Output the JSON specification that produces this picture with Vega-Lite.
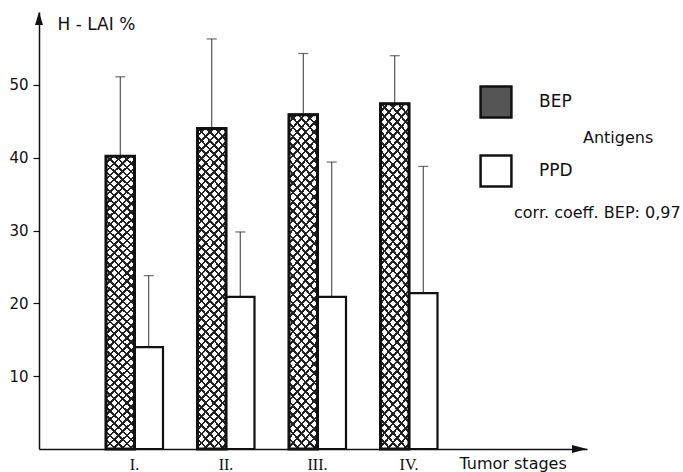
{
"$schema": "https://vega.github.io/schema/vega-lite/v6.json",
"width": 548, "height": 437,
"autosize": {"type": "none"},
"padding": {"left": 39, "top": 12, "right": 96, "bottom": 23},
"background": "white",
"config": {"view": {"stroke": null}, "font": "DejaVu Sans"},
"data": {"values": [
{"stage":"I.","antigen":"BEP","value":40.2,"upper":51.1},
{"stage":"I.","antigen":"PPD","value":14.0,"upper":23.8},
{"stage":"II.","antigen":"BEP","value":44.0,"upper":56.3},
{"stage":"II.","antigen":"PPD","value":20.9,"upper":29.8},
{"stage":"III.","antigen":"BEP","value":45.9,"upper":54.3},
{"stage":"III.","antigen":"PPD","value":20.9,"upper":39.4},
{"stage":"IV.","antigen":"BEP","value":47.4,"upper":54.0},
{"stage":"IV.","antigen":"PPD","value":21.4,"upper":38.8}
]},
"layer": [
{
"encoding": {
"x": {"field":"stage","type":"nominal","sort":["I.","II.","III.","IV."],
"scale":{"paddingInner":0.011,"paddingOuter":1,"align":0.2746},
"axis":{"title":"Tumor stages","labelAngle":0,"ticks":false,"tickSize":0,"labelPadding":7,"labelFont":"Liberation Serif","labelFontSize":16,"labelColor":"#111","labelDx":3,"domainColor":"#111","domainWidth":1.5,"titleFont":"DejaVu Sans","titleFontSize":16,"titleFontWeight":"normal","titleColor":"#111","titleX":420,"titleY":14,"titleAlign":"left","titleBaseline":"middle"}},
"xOffset": {"field":"antigen","type":"nominal","sort":["BEP","PPD"],"scale":{"paddingInner":0,"paddingOuter":0.588}},
"y": {"field":"value","type":"quantitative","title":"H - LAI %","scale":{"domain":[0,60],"nice":false},
"axis":{"values":[10,20,30,40,50],"grid":false,"tickSize":6,"tickColor":"#111","tickWidth":1.2,"labelPadding":5,"labelFontSize":15,"labelColor":"#111","domainColor":"#111","domainWidth":1.5,"titleAngle":0,"titleAlign":"left","titleBaseline":"middle","titleX":18,"titleY":12,"titleFontSize":17,"titleFontWeight":"normal","titleColor":"#111"}}
},
"layer": [
{"mark":{"type":"rule","color":"#333","strokeWidth":1},"encoding":{"y2":{"field":"upper"}}},
{"mark":{"type":"tick","color":"#333","size":10,"thickness":1.2},"encoding":{"y":{"field":"upper","type":"quantitative","title":"H - LAI %"}}},
{"mark":{"type":"bar","stroke":"#111","strokeWidth":2.2},"encoding":{"fill":{"field":"antigen","type":"nominal","scale":{"domain":["BEP","PPD"],"range":["#555","#fff"]},
"legend":{"title":"Antigens","orient":"none","legendX":440,"legendY":73,"direction":"vertical","symbolType":"square","symbolSize":950,"symbolStrokeColor":"#111","symbolStrokeWidth":2.5,"labelFontSize":17,"labelColor":"#111","labelOffset":26,"rowPadding":27,"titleOrient":"right","titleAnchor":"middle","titleFontSize":16,"titleFontWeight":"normal","titleColor":"#111","titlePadding":10,"titleBaseline":"middle","padding":0}}}},
{"transform":[{"filter":"datum.antigen === 'BEP'"}],"mark":{"type":"bar","strokeWidth":0,"fill":{"gradient":"linear","x1":0,"y1":0,"x2":0.103,"y2":1.1,"stops":[
{"offset":0,"color":"#fff"},{"offset":0.0175,"color":"#fff"},{"offset":0.0175,"color":"#222"},{"offset":0.025,"color":"#222"},
{"offset":0.025,"color":"#fff"},{"offset":0.0425,"color":"#fff"},{"offset":0.0425,"color":"#222"},{"offset":0.05,"color":"#222"},
{"offset":0.05,"color":"#fff"},{"offset":0.0675,"color":"#fff"},{"offset":0.0675,"color":"#222"},{"offset":0.075,"color":"#222"},
{"offset":0.075,"color":"#fff"},{"offset":0.0925,"color":"#fff"},{"offset":0.0925,"color":"#222"},{"offset":0.1,"color":"#222"},
{"offset":0.1,"color":"#fff"},{"offset":0.1175,"color":"#fff"},{"offset":0.1175,"color":"#222"},{"offset":0.125,"color":"#222"},
{"offset":0.125,"color":"#fff"},{"offset":0.1425,"color":"#fff"},{"offset":0.1425,"color":"#222"},{"offset":0.15,"color":"#222"},
{"offset":0.15,"color":"#fff"},{"offset":0.1675,"color":"#fff"},{"offset":0.1675,"color":"#222"},{"offset":0.175,"color":"#222"},
{"offset":0.175,"color":"#fff"},{"offset":0.1925,"color":"#fff"},{"offset":0.1925,"color":"#222"},{"offset":0.2,"color":"#222"},
{"offset":0.2,"color":"#fff"},{"offset":0.2175,"color":"#fff"},{"offset":0.2175,"color":"#222"},{"offset":0.225,"color":"#222"},
{"offset":0.225,"color":"#fff"},{"offset":0.2425,"color":"#fff"},{"offset":0.2425,"color":"#222"},{"offset":0.25,"color":"#222"},
{"offset":0.25,"color":"#fff"},{"offset":0.2675,"color":"#fff"},{"offset":0.2675,"color":"#222"},{"offset":0.275,"color":"#222"},
{"offset":0.275,"color":"#fff"},{"offset":0.2925,"color":"#fff"},{"offset":0.2925,"color":"#222"},{"offset":0.3,"color":"#222"},
{"offset":0.3,"color":"#fff"},{"offset":0.3175,"color":"#fff"},{"offset":0.3175,"color":"#222"},{"offset":0.325,"color":"#222"},
{"offset":0.325,"color":"#fff"},{"offset":0.3425,"color":"#fff"},{"offset":0.3425,"color":"#222"},{"offset":0.35,"color":"#222"},
{"offset":0.35,"color":"#fff"},{"offset":0.3675,"color":"#fff"},{"offset":0.3675,"color":"#222"},{"offset":0.375,"color":"#222"},
{"offset":0.375,"color":"#fff"},{"offset":0.3925,"color":"#fff"},{"offset":0.3925,"color":"#222"},{"offset":0.4,"color":"#222"},
{"offset":0.4,"color":"#fff"},{"offset":0.4175,"color":"#fff"},{"offset":0.4175,"color":"#222"},{"offset":0.425,"color":"#222"},
{"offset":0.425,"color":"#fff"},{"offset":0.4425,"color":"#fff"},{"offset":0.4425,"color":"#222"},{"offset":0.45,"color":"#222"},
{"offset":0.45,"color":"#fff"},{"offset":0.4675,"color":"#fff"},{"offset":0.4675,"color":"#222"},{"offset":0.475,"color":"#222"},
{"offset":0.475,"color":"#fff"},{"offset":0.4925,"color":"#fff"},{"offset":0.4925,"color":"#222"},{"offset":0.5,"color":"#222"},
{"offset":0.5,"color":"#fff"},{"offset":0.5175,"color":"#fff"},{"offset":0.5175,"color":"#222"},{"offset":0.525,"color":"#222"},
{"offset":0.525,"color":"#fff"},{"offset":0.5425,"color":"#fff"},{"offset":0.5425,"color":"#222"},{"offset":0.55,"color":"#222"},
{"offset":0.55,"color":"#fff"},{"offset":0.5675,"color":"#fff"},{"offset":0.5675,"color":"#222"},{"offset":0.575,"color":"#222"},
{"offset":0.575,"color":"#fff"},{"offset":0.5925,"color":"#fff"},{"offset":0.5925,"color":"#222"},{"offset":0.6,"color":"#222"},
{"offset":0.6,"color":"#fff"},{"offset":0.6175,"color":"#fff"},{"offset":0.6175,"color":"#222"},{"offset":0.625,"color":"#222"},
{"offset":0.625,"color":"#fff"},{"offset":0.6425,"color":"#fff"},{"offset":0.6425,"color":"#222"},{"offset":0.65,"color":"#222"},
{"offset":0.65,"color":"#fff"},{"offset":0.6675,"color":"#fff"},{"offset":0.6675,"color":"#222"},{"offset":0.675,"color":"#222"},
{"offset":0.675,"color":"#fff"},{"offset":0.6925,"color":"#fff"},{"offset":0.6925,"color":"#222"},{"offset":0.7,"color":"#222"},
{"offset":0.7,"color":"#fff"},{"offset":0.7175,"color":"#fff"},{"offset":0.7175,"color":"#222"},{"offset":0.725,"color":"#222"},
{"offset":0.725,"color":"#fff"},{"offset":0.7425,"color":"#fff"},{"offset":0.7425,"color":"#222"},{"offset":0.75,"color":"#222"},
{"offset":0.75,"color":"#fff"},{"offset":0.7675,"color":"#fff"},{"offset":0.7675,"color":"#222"},{"offset":0.775,"color":"#222"},
{"offset":0.775,"color":"#fff"},{"offset":0.7925,"color":"#fff"},{"offset":0.7925,"color":"#222"},{"offset":0.8,"color":"#222"},
{"offset":0.8,"color":"#fff"},{"offset":0.8175,"color":"#fff"},{"offset":0.8175,"color":"#222"},{"offset":0.825,"color":"#222"},
{"offset":0.825,"color":"#fff"},{"offset":0.8425,"color":"#fff"},{"offset":0.8425,"color":"#222"},{"offset":0.85,"color":"#222"},
{"offset":0.85,"color":"#fff"},{"offset":0.8675,"color":"#fff"},{"offset":0.8675,"color":"#222"},{"offset":0.875,"color":"#222"},
{"offset":0.875,"color":"#fff"},{"offset":0.8925,"color":"#fff"},{"offset":0.8925,"color":"#222"},{"offset":0.9,"color":"#222"},
{"offset":0.9,"color":"#fff"},{"offset":0.9175,"color":"#fff"},{"offset":0.9175,"color":"#222"},{"offset":0.925,"color":"#222"},
{"offset":0.925,"color":"#fff"},{"offset":0.9425,"color":"#fff"},{"offset":0.9425,"color":"#222"},{"offset":0.95,"color":"#222"},
{"offset":0.95,"color":"#fff"},{"offset":0.9675,"color":"#fff"},{"offset":0.9675,"color":"#222"},{"offset":0.975,"color":"#222"},
{"offset":0.975,"color":"#fff"},{"offset":0.9925,"color":"#fff"},{"offset":0.9925,"color":"#222"},{"offset":1,"color":"#222"}
]}}},
{"transform":[{"filter":"datum.antigen === 'BEP'"}],"mark":{"type":"bar","stroke":"#111","strokeWidth":3,"fill":{"gradient":"linear","x1":0.103,"y1":-0.1,"x2":0,"y2":1.0,"stops":[
{"offset":0,"color":"rgba(0,0,0,0)"},{"offset":0.0175,"color":"rgba(0,0,0,0)"},{"offset":0.0175,"color":"#222"},{"offset":0.025,"color":"#222"},
{"offset":0.025,"color":"rgba(0,0,0,0)"},{"offset":0.0425,"color":"rgba(0,0,0,0)"},{"offset":0.0425,"color":"#222"},{"offset":0.05,"color":"#222"},
{"offset":0.05,"color":"rgba(0,0,0,0)"},{"offset":0.0675,"color":"rgba(0,0,0,0)"},{"offset":0.0675,"color":"#222"},{"offset":0.075,"color":"#222"},
{"offset":0.075,"color":"rgba(0,0,0,0)"},{"offset":0.0925,"color":"rgba(0,0,0,0)"},{"offset":0.0925,"color":"#222"},{"offset":0.1,"color":"#222"},
{"offset":0.1,"color":"rgba(0,0,0,0)"},{"offset":0.1175,"color":"rgba(0,0,0,0)"},{"offset":0.1175,"color":"#222"},{"offset":0.125,"color":"#222"},
{"offset":0.125,"color":"rgba(0,0,0,0)"},{"offset":0.1425,"color":"rgba(0,0,0,0)"},{"offset":0.1425,"color":"#222"},{"offset":0.15,"color":"#222"},
{"offset":0.15,"color":"rgba(0,0,0,0)"},{"offset":0.1675,"color":"rgba(0,0,0,0)"},{"offset":0.1675,"color":"#222"},{"offset":0.175,"color":"#222"},
{"offset":0.175,"color":"rgba(0,0,0,0)"},{"offset":0.1925,"color":"rgba(0,0,0,0)"},{"offset":0.1925,"color":"#222"},{"offset":0.2,"color":"#222"},
{"offset":0.2,"color":"rgba(0,0,0,0)"},{"offset":0.2175,"color":"rgba(0,0,0,0)"},{"offset":0.2175,"color":"#222"},{"offset":0.225,"color":"#222"},
{"offset":0.225,"color":"rgba(0,0,0,0)"},{"offset":0.2425,"color":"rgba(0,0,0,0)"},{"offset":0.2425,"color":"#222"},{"offset":0.25,"color":"#222"},
{"offset":0.25,"color":"rgba(0,0,0,0)"},{"offset":0.2675,"color":"rgba(0,0,0,0)"},{"offset":0.2675,"color":"#222"},{"offset":0.275,"color":"#222"},
{"offset":0.275,"color":"rgba(0,0,0,0)"},{"offset":0.2925,"color":"rgba(0,0,0,0)"},{"offset":0.2925,"color":"#222"},{"offset":0.3,"color":"#222"},
{"offset":0.3,"color":"rgba(0,0,0,0)"},{"offset":0.3175,"color":"rgba(0,0,0,0)"},{"offset":0.3175,"color":"#222"},{"offset":0.325,"color":"#222"},
{"offset":0.325,"color":"rgba(0,0,0,0)"},{"offset":0.3425,"color":"rgba(0,0,0,0)"},{"offset":0.3425,"color":"#222"},{"offset":0.35,"color":"#222"},
{"offset":0.35,"color":"rgba(0,0,0,0)"},{"offset":0.3675,"color":"rgba(0,0,0,0)"},{"offset":0.3675,"color":"#222"},{"offset":0.375,"color":"#222"},
{"offset":0.375,"color":"rgba(0,0,0,0)"},{"offset":0.3925,"color":"rgba(0,0,0,0)"},{"offset":0.3925,"color":"#222"},{"offset":0.4,"color":"#222"},
{"offset":0.4,"color":"rgba(0,0,0,0)"},{"offset":0.4175,"color":"rgba(0,0,0,0)"},{"offset":0.4175,"color":"#222"},{"offset":0.425,"color":"#222"},
{"offset":0.425,"color":"rgba(0,0,0,0)"},{"offset":0.4425,"color":"rgba(0,0,0,0)"},{"offset":0.4425,"color":"#222"},{"offset":0.45,"color":"#222"},
{"offset":0.45,"color":"rgba(0,0,0,0)"},{"offset":0.4675,"color":"rgba(0,0,0,0)"},{"offset":0.4675,"color":"#222"},{"offset":0.475,"color":"#222"},
{"offset":0.475,"color":"rgba(0,0,0,0)"},{"offset":0.4925,"color":"rgba(0,0,0,0)"},{"offset":0.4925,"color":"#222"},{"offset":0.5,"color":"#222"},
{"offset":0.5,"color":"rgba(0,0,0,0)"},{"offset":0.5175,"color":"rgba(0,0,0,0)"},{"offset":0.5175,"color":"#222"},{"offset":0.525,"color":"#222"},
{"offset":0.525,"color":"rgba(0,0,0,0)"},{"offset":0.5425,"color":"rgba(0,0,0,0)"},{"offset":0.5425,"color":"#222"},{"offset":0.55,"color":"#222"},
{"offset":0.55,"color":"rgba(0,0,0,0)"},{"offset":0.5675,"color":"rgba(0,0,0,0)"},{"offset":0.5675,"color":"#222"},{"offset":0.575,"color":"#222"},
{"offset":0.575,"color":"rgba(0,0,0,0)"},{"offset":0.5925,"color":"rgba(0,0,0,0)"},{"offset":0.5925,"color":"#222"},{"offset":0.6,"color":"#222"},
{"offset":0.6,"color":"rgba(0,0,0,0)"},{"offset":0.6175,"color":"rgba(0,0,0,0)"},{"offset":0.6175,"color":"#222"},{"offset":0.625,"color":"#222"},
{"offset":0.625,"color":"rgba(0,0,0,0)"},{"offset":0.6425,"color":"rgba(0,0,0,0)"},{"offset":0.6425,"color":"#222"},{"offset":0.65,"color":"#222"},
{"offset":0.65,"color":"rgba(0,0,0,0)"},{"offset":0.6675,"color":"rgba(0,0,0,0)"},{"offset":0.6675,"color":"#222"},{"offset":0.675,"color":"#222"},
{"offset":0.675,"color":"rgba(0,0,0,0)"},{"offset":0.6925,"color":"rgba(0,0,0,0)"},{"offset":0.6925,"color":"#222"},{"offset":0.7,"color":"#222"},
{"offset":0.7,"color":"rgba(0,0,0,0)"},{"offset":0.7175,"color":"rgba(0,0,0,0)"},{"offset":0.7175,"color":"#222"},{"offset":0.725,"color":"#222"},
{"offset":0.725,"color":"rgba(0,0,0,0)"},{"offset":0.7425,"color":"rgba(0,0,0,0)"},{"offset":0.7425,"color":"#222"},{"offset":0.75,"color":"#222"},
{"offset":0.75,"color":"rgba(0,0,0,0)"},{"offset":0.7675,"color":"rgba(0,0,0,0)"},{"offset":0.7675,"color":"#222"},{"offset":0.775,"color":"#222"},
{"offset":0.775,"color":"rgba(0,0,0,0)"},{"offset":0.7925,"color":"rgba(0,0,0,0)"},{"offset":0.7925,"color":"#222"},{"offset":0.8,"color":"#222"},
{"offset":0.8,"color":"rgba(0,0,0,0)"},{"offset":0.8175,"color":"rgba(0,0,0,0)"},{"offset":0.8175,"color":"#222"},{"offset":0.825,"color":"#222"},
{"offset":0.825,"color":"rgba(0,0,0,0)"},{"offset":0.8425,"color":"rgba(0,0,0,0)"},{"offset":0.8425,"color":"#222"},{"offset":0.85,"color":"#222"},
{"offset":0.85,"color":"rgba(0,0,0,0)"},{"offset":0.8675,"color":"rgba(0,0,0,0)"},{"offset":0.8675,"color":"#222"},{"offset":0.875,"color":"#222"},
{"offset":0.875,"color":"rgba(0,0,0,0)"},{"offset":0.8925,"color":"rgba(0,0,0,0)"},{"offset":0.8925,"color":"#222"},{"offset":0.9,"color":"#222"},
{"offset":0.9,"color":"rgba(0,0,0,0)"},{"offset":0.9175,"color":"rgba(0,0,0,0)"},{"offset":0.9175,"color":"#222"},{"offset":0.925,"color":"#222"},
{"offset":0.925,"color":"rgba(0,0,0,0)"},{"offset":0.9425,"color":"rgba(0,0,0,0)"},{"offset":0.9425,"color":"#222"},{"offset":0.95,"color":"#222"},
{"offset":0.95,"color":"rgba(0,0,0,0)"},{"offset":0.9675,"color":"rgba(0,0,0,0)"},{"offset":0.9675,"color":"#222"},{"offset":0.975,"color":"#222"},
{"offset":0.975,"color":"rgba(0,0,0,0)"},{"offset":0.9925,"color":"rgba(0,0,0,0)"},{"offset":0.9925,"color":"#222"},{"offset":1,"color":"#222"}
]}}}
]
},
{"data":{"values":[{}]},"mark":{"type":"point","shape":"M0,0L0.57,1.86L-0.57,1.86Z","size":196,"filled":true,"color":"#111","opacity":1,"strokeWidth":0},
"encoding":{"x":{"datum":0,"type":"quantitative","scale":{"domain":[0,1],"nice":false},"axis":null},"y":{"datum":60,"type":"quantitative","title":"H - LAI %"}}},
{"data":{"values":[{}]},"mark":{"type":"point","shape":"M0,0L-2.14,-0.57L-2.14,0.57Z","size":196,"filled":true,"color":"#111","opacity":1,"strokeWidth":0},
"encoding":{"x":{"datum":1,"type":"quantitative","scale":{"domain":[0,1],"nice":false},"axis":null},"y":{"datum":0,"type":"quantitative","title":"H - LAI %"}}},
{"data":{"values":[{"note":"corr. coeff. BEP: 0,97"}]},"mark":{"type":"text","align":"left","baseline":"alphabetic","fontSize":16,"color":"#111","font":"DejaVu Sans"},
"encoding":{"x":{"datum":0.8668,"type":"quantitative","scale":{"domain":[0,1],"nice":false},"axis":null},"y":{"datum":31.7,"type":"quantitative","title":"H - LAI %"},"text":{"field":"note"}}}
],
"resolve":{"scale":{"x":"independent"}}
}
